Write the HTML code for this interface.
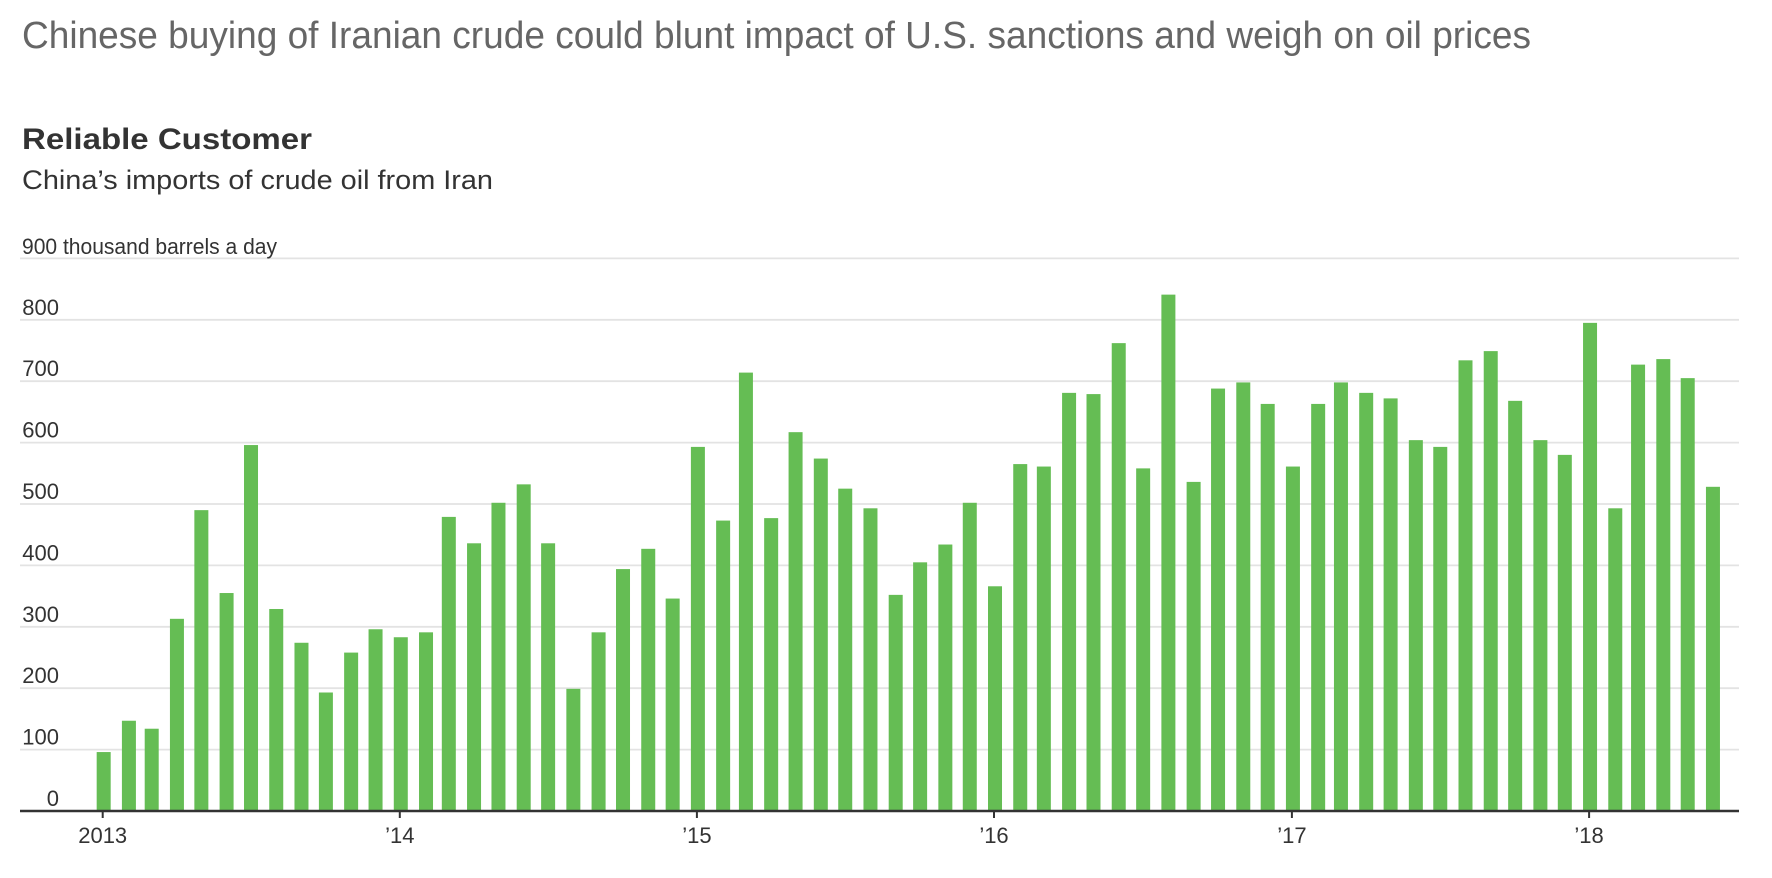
<!DOCTYPE html>
<html>
<head>
<meta charset="utf-8">
<style>
  html, body { margin: 0; padding: 0; background: #ffffff; }
  body { width: 1772px; height: 878px; overflow: hidden; }
  svg { display: block; }
  text { font-family: "Liberation Sans", "DejaVu Sans", sans-serif; }
</style>
</head>
<body>
<svg width="1772" height="878" viewBox="0 0 1772 878" xmlns="http://www.w3.org/2000/svg">
  <rect x="0" y="0" width="1772" height="878" fill="#ffffff"/>

  <text x="22" y="48" font-size="38" fill="#666666" textLength="1509" lengthAdjust="spacingAndGlyphs">Chinese buying of Iranian crude could blunt impact of U.S. sanctions and weigh on oil prices</text>

  <text x="22" y="149" font-size="30" font-weight="bold" fill="#333333" textLength="290" lengthAdjust="spacingAndGlyphs">Reliable Customer</text>
  <text x="22" y="189" font-size="27" fill="#333333" textLength="471" lengthAdjust="spacingAndGlyphs">China’s imports of crude oil from Iran</text>

  <g stroke="#e3e3e3" stroke-width="1.8">
    <line x1="20" y1="258.4" x2="1739" y2="258.4"/>
    <line x1="20" y1="319.8" x2="1739" y2="319.8"/>
    <line x1="20" y1="381.2" x2="1739" y2="381.2"/>
    <line x1="20" y1="442.6" x2="1739" y2="442.6"/>
    <line x1="20" y1="504.0" x2="1739" y2="504.0"/>
    <line x1="20" y1="565.4" x2="1739" y2="565.4"/>
    <line x1="20" y1="626.8" x2="1739" y2="626.8"/>
    <line x1="20" y1="688.2" x2="1739" y2="688.2"/>
    <line x1="20" y1="749.6" x2="1739" y2="749.6"/>
  </g>

  <g font-size="22" fill="#333333">
    <text x="22" y="254" textLength="255" lengthAdjust="spacingAndGlyphs">900 thousand barrels a day</text>
    <text x="59" y="315" text-anchor="end">800</text>
    <text x="59" y="376" text-anchor="end">700</text>
    <text x="59" y="437.5" text-anchor="end">600</text>
    <text x="59" y="499" text-anchor="end">500</text>
    <text x="59" y="560.5" text-anchor="end">400</text>
    <text x="59" y="622" text-anchor="end">300</text>
    <text x="59" y="683" text-anchor="end">200</text>
    <text x="59" y="744.5" text-anchor="end">100</text>
    <text x="59" y="806" text-anchor="end">0</text>
  </g>

  <g transform="translate(102.7,811) scale(0.814,-0.614)" fill="#65bd54">
    <rect x="-7.4" y="0" width="17.2" height="96"/>
    <rect x="23.6" y="0" width="17.2" height="147"/>
    <rect x="51.6" y="0" width="17.2" height="134"/>
    <rect x="82.6" y="0" width="17.2" height="313"/>
    <rect x="112.6" y="0" width="17.2" height="490"/>
    <rect x="143.6" y="0" width="17.2" height="355"/>
    <rect x="173.6" y="0" width="17.2" height="596"/>
    <rect x="204.6" y="0" width="17.2" height="329"/>
    <rect x="235.6" y="0" width="17.2" height="274"/>
    <rect x="265.6" y="0" width="17.2" height="193"/>
    <rect x="296.6" y="0" width="17.2" height="258"/>
    <rect x="326.6" y="0" width="17.2" height="296"/>
    <rect x="357.6" y="0" width="17.2" height="283"/>
    <rect x="388.6" y="0" width="17.2" height="291"/>
    <rect x="416.6" y="0" width="17.2" height="479"/>
    <rect x="447.6" y="0" width="17.2" height="436"/>
    <rect x="477.6" y="0" width="17.2" height="502"/>
    <rect x="508.6" y="0" width="17.2" height="532"/>
    <rect x="538.6" y="0" width="17.2" height="436"/>
    <rect x="569.6" y="0" width="17.2" height="199"/>
    <rect x="600.6" y="0" width="17.2" height="291"/>
    <rect x="630.6" y="0" width="17.2" height="394"/>
    <rect x="661.6" y="0" width="17.2" height="427"/>
    <rect x="691.6" y="0" width="17.2" height="346"/>
    <rect x="722.6" y="0" width="17.2" height="593"/>
    <rect x="753.6" y="0" width="17.2" height="473"/>
    <rect x="781.6" y="0" width="17.2" height="714"/>
    <rect x="812.6" y="0" width="17.2" height="477"/>
    <rect x="842.6" y="0" width="17.2" height="617"/>
    <rect x="873.6" y="0" width="17.2" height="574"/>
    <rect x="903.6" y="0" width="17.2" height="525"/>
    <rect x="934.6" y="0" width="17.2" height="493"/>
    <rect x="965.6" y="0" width="17.2" height="352"/>
    <rect x="995.6" y="0" width="17.2" height="405"/>
    <rect x="1026.6" y="0" width="17.2" height="434"/>
    <rect x="1056.6" y="0" width="17.2" height="502"/>
    <rect x="1087.6" y="0" width="17.2" height="366"/>
    <rect x="1118.6" y="0" width="17.2" height="565"/>
    <rect x="1147.6" y="0" width="17.2" height="561"/>
    <rect x="1178.6" y="0" width="17.2" height="681"/>
    <rect x="1208.6" y="0" width="17.2" height="679"/>
    <rect x="1239.6" y="0" width="17.2" height="762"/>
    <rect x="1269.6" y="0" width="17.2" height="558"/>
    <rect x="1300.6" y="0" width="17.2" height="841"/>
    <rect x="1331.6" y="0" width="17.2" height="536"/>
    <rect x="1361.6" y="0" width="17.2" height="688"/>
    <rect x="1392.6" y="0" width="17.2" height="698"/>
    <rect x="1422.6" y="0" width="17.2" height="663"/>
    <rect x="1453.6" y="0" width="17.2" height="561"/>
    <rect x="1484.6" y="0" width="17.2" height="663"/>
    <rect x="1512.6" y="0" width="17.2" height="698"/>
    <rect x="1543.6" y="0" width="17.2" height="681"/>
    <rect x="1573.6" y="0" width="17.2" height="672"/>
    <rect x="1604.6" y="0" width="17.2" height="604"/>
    <rect x="1634.6" y="0" width="17.2" height="593"/>
    <rect x="1665.6" y="0" width="17.2" height="734"/>
    <rect x="1696.6" y="0" width="17.2" height="749"/>
    <rect x="1726.6" y="0" width="17.2" height="668"/>
    <rect x="1757.6" y="0" width="17.2" height="604"/>
    <rect x="1787.6" y="0" width="17.2" height="580"/>
    <rect x="1818.6" y="0" width="17.2" height="795"/>
    <rect x="1849.6" y="0" width="17.2" height="493"/>
    <rect x="1877.6" y="0" width="17.2" height="727"/>
    <rect x="1908.6" y="0" width="17.2" height="736"/>
    <rect x="1938.6" y="0" width="17.2" height="705"/>
    <rect x="1969.6" y="0" width="17.2" height="528"/>
  </g>

  <line x1="20" y1="811" x2="1739" y2="811" stroke="#333333" stroke-width="2.6"/>
  <g stroke="#333333" stroke-width="2">
    <line x1="102.7" y1="811" x2="102.7" y2="818"/>
    <line x1="399.8" y1="811" x2="399.8" y2="818"/>
    <line x1="696.9" y1="811" x2="696.9" y2="818"/>
    <line x1="994.0" y1="811" x2="994.0" y2="818"/>
    <line x1="1291.9" y1="811" x2="1291.9" y2="818"/>
    <line x1="1589.1" y1="811" x2="1589.1" y2="818"/>
  </g>
  <g font-size="22" fill="#333333" text-anchor="middle">
    <text x="102.7" y="843">2013</text>
    <text x="399.8" y="843">’14</text>
    <text x="696.9" y="843">’15</text>
    <text x="994.0" y="843">’16</text>
    <text x="1291.9" y="843">’17</text>
    <text x="1589.1" y="843">’18</text>
  </g>
</svg>
</body>
</html>
